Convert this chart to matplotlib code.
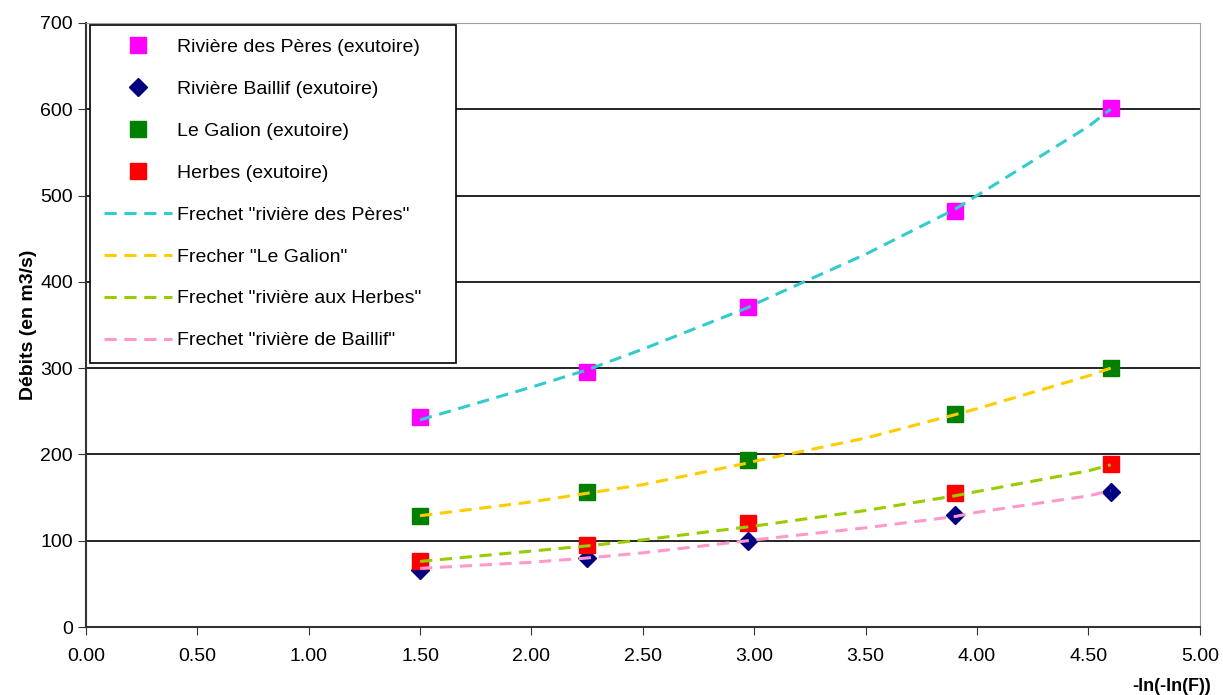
import matplotlib.pyplot as plt

plt.rcParams['font.family'] = ['Liberation Sans', 'DejaVu Sans']

# observed values
x_obs = [1.50, 2.25, 2.97, 3.90, 4.60]
peres = [243, 296, 371, 482, 601]
baillif = [66, 80, 100, 130, 156]
galion = [129, 157, 193, 247, 300]
herbes = [77, 95, 120, 155, 189]

# fitted Frechet curves
x_fit = [1.50, 2.00, 2.25, 2.50, 2.97, 3.00, 3.50, 3.90, 4.00, 4.50, 4.60]
fit_peres = [240, 278, 298, 322, 370, 374, 432, 484, 500, 580, 600]
fit_galion = [129, 145, 155, 165, 190, 192, 219, 246, 253, 291, 300]
fit_herbes = [76, 88, 94, 101, 116, 117, 135, 152, 157, 181, 188]
fit_baillif = [68, 75, 80, 86, 100, 101, 115, 128, 133, 152, 158]

fig = plt.figure(figsize=(12.23, 6.95), dpi=100)
ax = fig.add_axes([0.0703, 0.0978, 0.9107, 0.8692])

ms = 11
ax.plot(x_obs, peres, 's', color='#ff00ff', ms=ms, label='Rivière des Pères (exutoire)', zorder=3)
ax.plot(x_obs, baillif, 'D', color='#000080', ms=ms * 0.8, label='Rivière Baillif (exutoire)', zorder=3)
ax.plot(x_obs, galion, 's', color='#008000', ms=ms, label='Le Galion (exutoire)', zorder=3)
ax.plot(x_obs, herbes, 's', color='#ff0000', ms=ms, label='Herbes (exutoire)', zorder=3)

dash = (0, (4, 2.5))
ax.plot(x_fit, fit_peres, color='#33cccc', lw=2.2, ls=dash, label='Frechet "rivière des Pères"', zorder=4)
ax.plot(x_fit, fit_galion, color='#ffcc00', lw=2.2, ls=dash, label='Frecher "Le Galion"', zorder=4)
ax.plot(x_fit, fit_herbes, color='#99cc00', lw=2.2, ls=dash, label='Frechet "rivière aux Herbes"', zorder=4)
ax.plot(x_fit, fit_baillif, color='#ff99cc', lw=2.2, ls=dash, label='Frechet "rivière de Baillif"', zorder=4)

ax.set_xlim(0, 5)
ax.set_ylim(0, 700)
ax.set_xticks([i * 0.5 for i in range(11)])
ax.set_xticklabels([f'{i * 0.5:.2f}' for i in range(11)])
ax.set_yticks(range(0, 701, 100))
ax.yaxis.grid(True, color='black', lw=1.2)
ax.set_axisbelow(True)
ax.tick_params(labelsize=14, direction='out', length=6, color='#333333')
ax.tick_params(axis='x', pad=9)

for s in ['top', 'right']:
    ax.spines[s].set_color('#a0a0a0')
for s in ['left', 'bottom']:
    ax.spines[s].set_color('#333333')
    ax.spines[s].set_linewidth(1.5)

ax.set_ylabel('Débits (en m3/s)', fontsize=14, fontweight='bold', labelpad=2)
ax.set_xlabel('-ln(-ln(F))', fontsize=13, fontweight='bold')
ax.xaxis.set_label_coords(0.975, -0.085)

leg = ax.legend(loc='upper left', bbox_to_anchor=(0.0036, 0.997, 0.3286, 0.0), mode='expand',
                fontsize=14, frameon=True, fancybox=False, edgecolor='black', framealpha=1,
                labelspacing=1.25, handlelength=3.5, borderpad=0.7, handletextpad=0.3,
                borderaxespad=0)
leg.get_frame().set_linewidth(1.2)
leg.set_zorder(5)

fig.savefig('out.png', dpi=100)
